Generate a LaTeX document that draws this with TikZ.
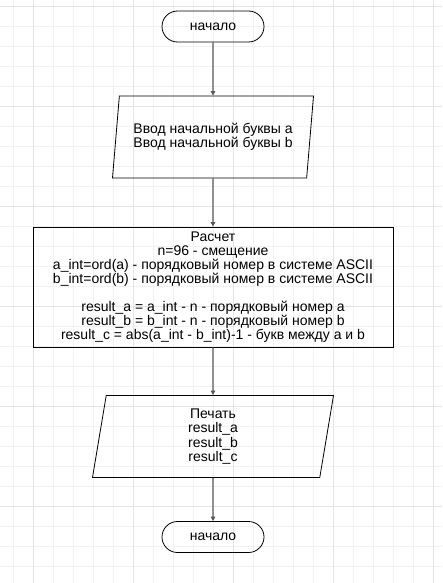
\documentclass[tikz,border=0pt]{standalone}
\usepackage{fontspec}
\setmainfont{Liberation Sans}
\usetikzlibrary{shapes.geometric,arrows.meta}

\definecolor{gridminor}{RGB}{241,241,241}
\definecolor{gridmajor}{RGB}{228,228,228}

\begin{document}
\begin{tikzpicture}[x=1pt,y=-1pt,
    font=\fontsize{14}{14.2}\selectfont,
    term/.style={draw,line width=0.8pt,rounded corners=15.5pt,minimum width=102pt,minimum height=31pt,inner sep=0pt},
    io/.style={draw,line width=0.8pt,trapezium,trapezium left angle=76,trapezium right angle=104,trapezium stretches body,minimum height=82pt,inner sep=0pt,align=center},
    proc/.style={draw,line width=0.8pt,minimum width=360pt,minimum height=120pt,inner sep=0pt,align=center},
    flow/.style={draw=black!65,line width=1.3pt,-{Triangle[length=4.5pt,width=4.5pt]}}]
  \useasboundingbox[fill=white] (0,0) rectangle (442,583);
  \foreach \gx in {13,33,...,433} \draw[gridminor,line width=1pt] (\gx,0) -- (\gx,583);
  \foreach \gy in {6.5,26.5,...,576.5} \draw[gridminor,line width=1pt] (0,\gy) -- (442,\gy);
  \foreach \gx in {33,133,...,433} \draw[gridmajor,line width=1pt] (\gx,0) -- (\gx,583);
  \foreach \gy in {6.5,106.5,...,506.5} \draw[gridmajor,line width=1pt] (0,\gy) -- (442,\gy);

  \node[term] (start) at (213,26.5) {начало};
  \node[io,minimum width=201pt] (in1) at (213,137) {Ввод начальной буквы a\\Ввод начальной буквы b};
  \node[proc] (calc) at (213,287) {Расчет\\n=96 - смещение\\a\_int=ord(a) - порядковый номер в системе ASCII\\b\_int=ord(b) - порядковый номер в системе ASCII\\[13pt]result\_a = a\_int - n - порядковый номер a\\result\_b = b\_int - n - порядковый номер b\\result\_c = abs(a\_int - b\_int)-1 - букв между a и b};
  \node[io,minimum width=241pt] (out) at (213,436.5) {Печать\\result\_a\\result\_b\\result\_c};
  \node[term] (end) at (213,537) {начало};

  \draw[flow] (start) -- (in1);
  \draw[flow] (in1) -- (calc);
  \draw[flow] (calc) -- (out);
  \draw[flow] (out) -- (end);
\end{tikzpicture}
\end{document}
